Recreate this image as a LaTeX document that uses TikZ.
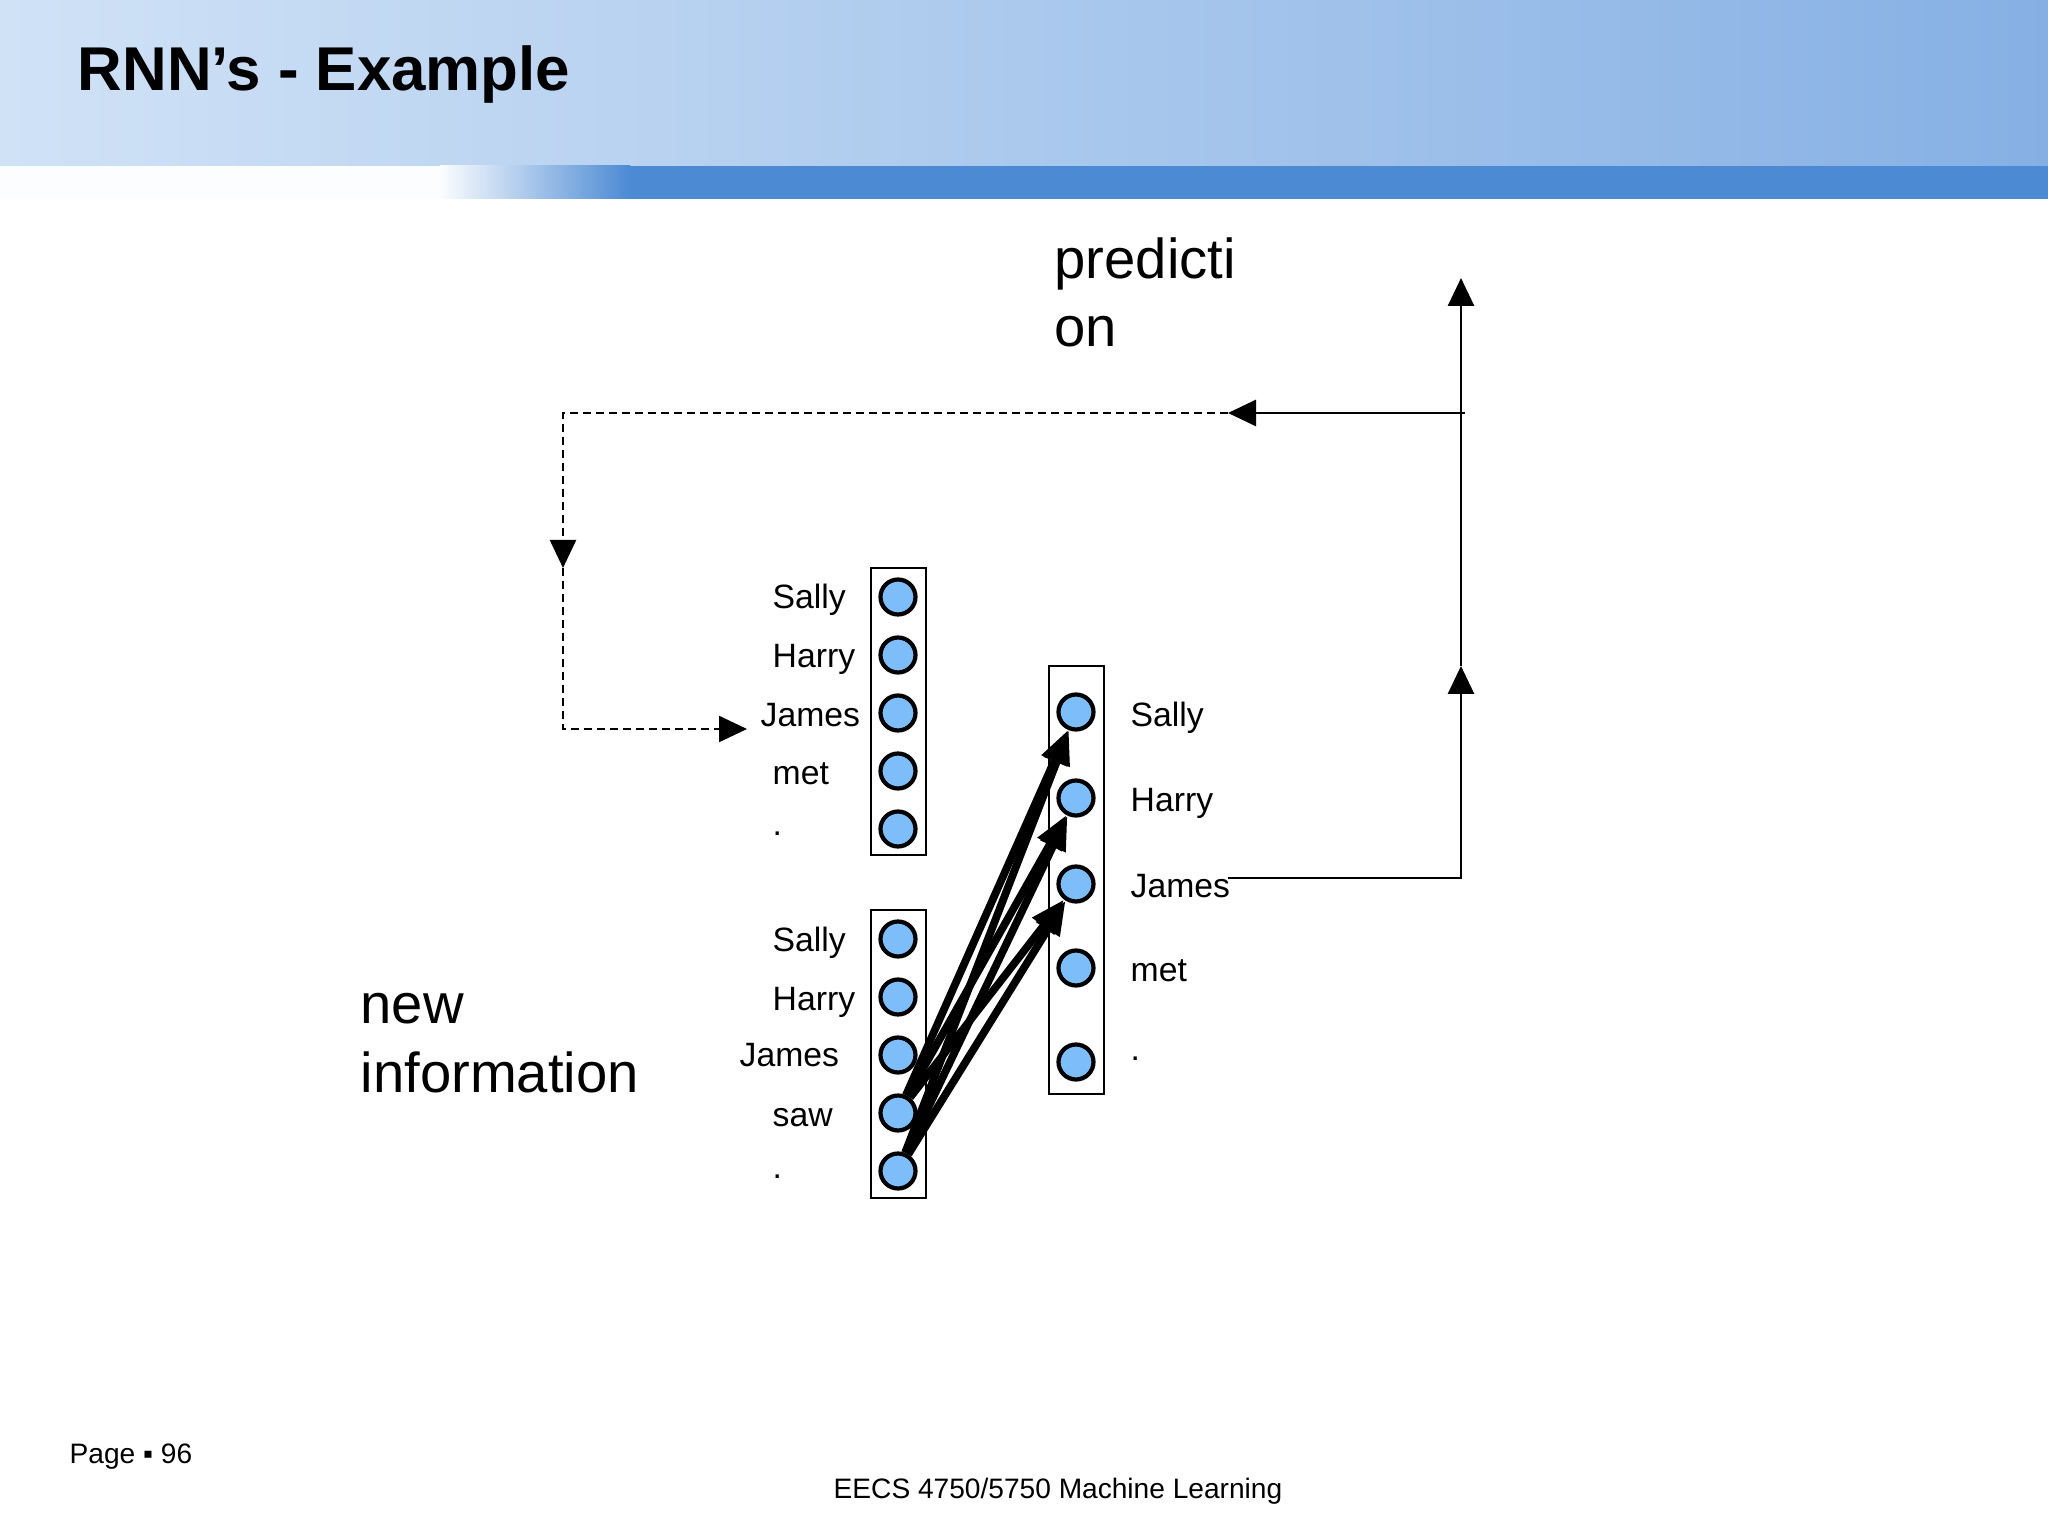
\documentclass[tikz,border=0pt]{standalone}
\usepackage{fontspec}
\setmainfont{Liberation Sans}
\usetikzlibrary{arrows.meta}
\definecolor{headlight}{RGB}{208,226,246}
\definecolor{headdark}{RGB}{134,176,228}
\definecolor{bandblue}{RGB}{76,138,212}
\definecolor{neuronblue}{RGB}{125,190,250}

\begin{document}
\begin{tikzpicture}
    \tikzstyle{arrow} = [-{Triangle[length=0.28cm,width=0.26cm]}, line width=0.8pt]
    \tikzstyle{dasharrow} = [arrow, line width=0.7pt, dash pattern=on 2.3pt off 1.4pt]
    \tikzstyle{warrow} = [-{Triangle[length=0.34cm,width=0.26cm]}, line width=2.2pt]
    \tikzstyle{neuron} = [circle, draw=black, line width=1.2pt, fill=neuronblue,
        minimum size=0.35cm, inner sep=0pt]
    \tikzstyle{lbl} = [font=\fontsize{9.6}{11.5}\selectfont, inner sep=0pt,
        anchor=base west]
    \tikzstyle{big} = [font=\fontsize{16}{19.6}\selectfont, inner sep=0pt,
        align=left, anchor=base west]
    \tikzstyle{foot} = [font=\fontsize{8}{9.6}\selectfont, inner sep=0pt,
        anchor=base west]

    \useasboundingbox (0,0) rectangle (20.48,-15.36);
    \fill[white] (0,0) rectangle (20.48,-15.36);

    % slide header
    \shade[left color=headlight, right color=headdark] (0,0) rectangle (20.48,-1.66);
    \fill[white!92!headlight] (0,-1.66) rectangle (4.4,-1.99);
    \shade[left color=white!92!headlight, right color=bandblue] (4.4,-1.66) rectangle (6.3,-1.99);
    \fill[bandblue] (6.3,-1.66) rectangle (20.48,-1.99);

    \node(title) [font=\fontsize{17.6}{21}\selectfont\bfseries, inner sep=0pt]
        at (0.77,-0.91) [anchor=base west]
        {RNN’s - Example};

    % boxes round the layers
    \draw[line width=0.6pt] (8.71,-5.68) rectangle (9.26,-8.55);
    \draw[line width=0.6pt] (8.71,-9.10) rectangle (9.26,-11.98);
    \draw[line width=0.6pt] (10.49,-6.66) rectangle (11.04,-10.94);

    % previous output, fed back
    \node(prevsally) [neuron] at (8.98,-5.97) {};
    \node(prevharry) [neuron, below of=prevsally, node distance=0.58cm] {};
    \node(prevjames) [neuron, below of=prevharry, node distance=0.58cm] {};
    \node(prevmet) [neuron, below of=prevjames, node distance=0.58cm] {};
    \node(prevdot) [neuron, below of=prevmet, node distance=0.58cm] {};

    \node(prevsallytext) [lbl] at (7.72,-6.09) {Sally};
    \node(prevharrytext) [lbl] at (7.72,-6.68) {Harry};
    \node(prevjamestext) [lbl] at (7.60,-7.26) {James};
    \node(prevmettext) [lbl] at (7.72,-7.84) {met};
    \node(prevdottext) [lbl] at (7.72,-8.36) {.};

    % new input
    \node(newsally) [neuron] at (8.98,-9.39) {};
    \node(newharry) [neuron, below of=newsally, node distance=0.58cm] {};
    \node(newjames) [neuron, below of=newharry, node distance=0.58cm] {};
    \node(newsaw) [neuron, below of=newjames, node distance=0.58cm] {};
    \node(newdot) [neuron, below of=newsaw, node distance=0.58cm] {};

    \node(newsallytext) [lbl] at (7.72,-9.51) {Sally};
    \node(newharrytext) [lbl] at (7.72,-10.10) {Harry};
    \node(newjamestext) [lbl] at (7.39,-10.67) {James};
    \node(newsawtext) [lbl] at (7.72,-11.26) {saw};
    \node(newdottext) [lbl] at (7.72,-11.78) {.};

    % output layer
    \node(outsally) [neuron] at (10.76,-7.12) {};
    \node(outharry) [neuron, below of=outsally, node distance=0.86cm] {};
    \node(outjames) [neuron, below of=outharry, node distance=0.86cm] {};
    \node(outmet) [neuron, below of=outjames, node distance=0.84cm] {};
    \node(outdot) [neuron, below of=outmet, node distance=0.94cm] {};

    \node(outsallytext) [lbl] at (11.30,-7.26) {Sally};
    \node(outharrytext) [lbl] at (11.30,-8.11) {Harry};
    \node(outjamestext) [lbl] at (11.30,-8.98) {James};
    \node(outmettext) [lbl] at (11.30,-9.81) {met};
    \node(outdottext) [lbl] at (11.30,-10.60) {.};

    \node(newinfo) [big] at (3.60,-10.92) {new\\information};
    \node(prediction) [big] at (10.54,-3.47) {predicti\\on};

    \node(pagenum) [foot] at (0.69,-14.63) {Page ▪ 96};
    \node(course) [foot] at (8.33,-14.98) {EECS 4750/5750 Machine Learning};

    % weights
    \draw[warrow] (newsaw) -- (outsally);
    \draw[warrow] (newsaw) -- (outharry);
    \draw[warrow] (newsaw) -- (outjames);
    \draw[warrow] (newdot) -- (outsally);
    \draw[warrow] (newdot) -- (outharry);
    \draw[warrow] (newdot) -- (outjames);

    % prediction and feedback loop
    \coordinate (jstart) at (12.28,-8.78);
    \coordinate (jturn) at (14.61,-8.78);
    \coordinate (midtip) at (14.61,-6.66);
    \coordinate (toptip) at (14.61,-2.78);
    \coordinate (branch) at (14.65,-4.13);
    \coordinate (backtip) at (12.28,-4.13);
    \coordinate (loopcorner) at (5.63,-4.13);
    \coordinate (looptip) at (5.63,-5.68);
    \coordinate (loopbottom) at (5.63,-7.29);
    \coordinate (feedtip) at (7.47,-7.29);

    \draw[arrow] (jstart) -- (jturn) -- (midtip);
    \draw[arrow] (midtip) -- (toptip);
    \draw[arrow] (branch) -- (backtip);
    \draw[dasharrow] (backtip) -- (loopcorner) -- (looptip);
    \draw[dasharrow] (looptip) -- (loopbottom) -- (feedtip);
\end{tikzpicture}
\end{document}
